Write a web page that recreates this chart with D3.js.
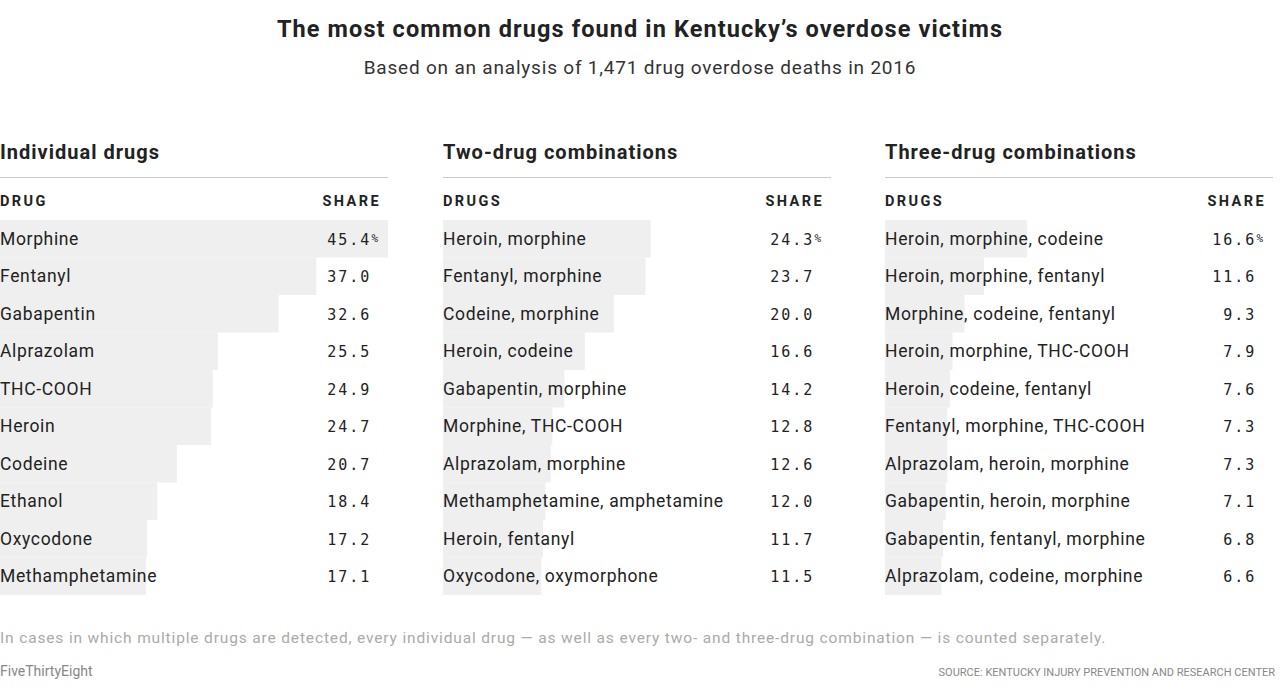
<!DOCTYPE html>
<html><head><meta charset="utf-8">
<script src="https://cdn.jsdelivr.net/npm/d3@7.9.0/dist/d3.min.js"></script>
<style>body{margin:0;background:#fff;font-family:"Roboto","Liberation Sans",sans-serif}</style>
</head><body><svg id="chart" width="1280" height="686"></svg>
<script>
// data
const panelTitles = ['Individual drugs', 'Two-drug combinations', 'Three-drug combinations'];
const colHeads = ['DRUG', 'DRUGS', 'DRUGS'];
const singleNames = ['Morphine','Fentanyl','Gabapentin','Alprazolam','THC-COOH','Heroin','Codeine','Ethanol','Oxycodone','Methamphetamine'];
const singleVals = [45.4,37.0,32.6,25.5,24.9,24.7,20.7,18.4,17.2,17.1];
const twoNames = ['Heroin, morphine','Fentanyl, morphine','Codeine, morphine','Heroin, codeine','Gabapentin, morphine','Morphine, THC-COOH','Alprazolam, morphine','Methamphetamine, amphetamine','Heroin, fentanyl','Oxycodone, oxymorphone'];
const twoVals = [24.3,23.7,20.0,16.6,14.2,12.8,12.6,12.0,11.7,11.5];
const threeNames = ['Heroin, morphine, codeine','Heroin, morphine, fentanyl','Morphine, codeine, fentanyl','Heroin, morphine, THC-COOH','Heroin, codeine, fentanyl','Fentanyl, morphine, THC-COOH','Alprazolam, heroin, morphine','Gabapentin, heroin, morphine','Gabapentin, fentanyl, morphine','Alprazolam, codeine, morphine'];
const threeVals = [16.6,11.6,9.3,7.9,7.6,7.3,7.3,7.1,6.8,6.6];

const panels = [[singleNames, singleVals],[twoNames, twoVals],[threeNames, threeVals]];
const svg = d3.select('#chart');
const panelX = [0, 443, 885], panelW = 388;

svg.append('text').attr('x',640).attr('y',37).attr('text-anchor','middle')
  .attr('font-size',23.5).attr('font-weight',700).attr('fill','#222').attr('letter-spacing',1.1)
  .text('The most common drugs found in Kentucky’s overdose victims');
svg.append('text').attr('x',640).attr('y',74).attr('text-anchor','middle')
  .attr('font-size',19).attr('fill','#333').attr('letter-spacing',0.8)
  .text('Based on an analysis of 1,471 drug overdose deaths in 2016');

const x = d3.scaleLinear().domain([0, 45.4]).range([0, panelW]);
const y = d3.scaleBand().domain(d3.range(10)).range([220, 595]).padding(0);

panels.forEach(([names, vals], p) => {
  const g = svg.append('g').attr('transform', `translate(${panelX[p]},0)`);
  g.append('text').attr('y',159).attr('font-size',20).attr('font-weight',700).attr('letter-spacing',1).attr('fill','#222').text(panelTitles[p]);
  g.append('line').attr('x1',0).attr('x2',panelW).attr('y1',177.5).attr('y2',177.5).attr('stroke','#ccc');
  g.append('text').attr('y',206).attr('font-size',14.5).attr('font-weight',700).attr('letter-spacing',2.4).attr('fill','#222').text(colHeads[p]);
  g.append('text').attr('x',panelW - 7).attr('y',206).attr('text-anchor','end').attr('font-size',14.5).attr('font-weight',700).attr('letter-spacing',2.4).attr('fill','#222').text('SHARE');
  const rows = g.selectAll('g.row').data(names.map((n,i)=>({n, v: vals[i], i}))).join('g').attr('class','row');
  rows.append('rect').attr('x',0).attr('y',d=>y(d.i)).attr('height',y.bandwidth()).attr('width',d=>x(d.v)).attr('fill','#efefef');
  rows.append('text').attr('x',0).attr('y',d=>y(d.i)+y.bandwidth()/2+6).attr('font-size',17.5).attr('letter-spacing',0.65).attr('fill','#222').text(d=>d.n);
  rows.append('text').attr('x',panelW-8).attr('y',d=>y(d.i)+y.bandwidth()/2+6)
    .attr('text-anchor','end').attr('font-family','"DejaVu Sans Mono",monospace').attr('font-size',15).attr('fill','#222')
    .attr('letter-spacing',2)
    .each(function(d){
      const t = d3.select(this);
      t.append('tspan').text(d.v.toFixed(1));
      if (d.i === 0) t.append('tspan').attr('font-size',11).attr('dy',-3).text('%');
      else t.append('tspan').attr('fill','none').attr('font-size',11).text('%');
    });
});

svg.append('text').attr('x',0).attr('y',643).attr('font-size',15.5).attr('fill','#aaa').attr('letter-spacing',0.85)
  .text('In cases in which multiple drugs are detected, every individual drug — as well as every two- and three-drug combination — is counted separately.');
svg.append('text').attr('x',0).attr('y',676).attr('font-size',14).attr('fill','#888').text('FiveThirtyEight');
svg.append('text').attr('x',1275).attr('y',676).attr('text-anchor','end').attr('font-size',11).attr('fill','#888')
  .text('SOURCE: KENTUCKY INJURY PREVENTION AND RESEARCH CENTER');
</script></body></html>
